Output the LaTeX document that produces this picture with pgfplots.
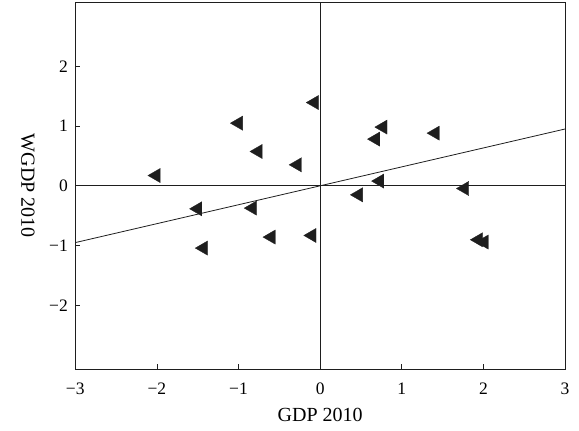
\documentclass[border=0pt]{standalone}
\usepackage{pgfplots}
\pgfplotsset{compat=1.18}
\usepackage{fontspec}
\setmainfont{Liberation Serif}
\definecolor{ink}{HTML}{1E1E1E}
\pgfplotstableread{
x y
-2.01 0.172
-1.00 1.048
-0.76 0.574
-0.28 0.351
-0.07 1.393
0.77 0.982
0.68 0.781
1.41 0.881
0.73 0.079
1.77 -0.045
0.47 -0.151
-1.50 -0.385
-0.83 -0.373
-0.60 -0.858
-0.10 -0.831
-1.43 -1.042
1.94 -0.903
2.01 -0.941
}\pts
\usepackage{pgfplotstable}
\begin{document}
\begin{tikzpicture}
\begin{axis}[
  name=ax,
  scale only axis, width=489.7bp, height=367bp,
  xmin=-3, xmax=3, ymin=-3.07, ymax=3.07,
  axis line style={ink, line width=0.9bp},
  xtick={-3,-2,-1,0,1,2,3},
  xticklabels={−3,−2,−1,0,1,2,3},
  ytick={-2,-1,0,1,2},
  yticklabels={−2,−1,0,1,2},
  xtick pos=lower, ytick pos=left,
  tick align=inside, major tick length=5bp,
  tick style={ink, line width=0.8bp},
  ticklabel style={font=\fontsize{17.5bp}{20bp}\selectfont},
  xticklabel style={yshift=-10bp},
  yticklabel style={xshift=-4bp},
  xlabel={GDP 2010},
  ylabel={WGDP 2010},
  label style={font=\fontsize{20bp}{23bp}\selectfont},
  xlabel style={at={(axis description cs:0.5,-0.1428)}, anchor=base},
  ylabel style={at={(axis description cs:-0.0966,0.5)}, anchor=center, rotate=180},
  clip=true,
]
\addplot[ink, line width=0.8bp, forget plot] coordinates {(0,-3.07) (0,3.07)};
\addplot[ink, line width=0.8bp, forget plot] coordinates {(-3,0) (3,0)};
\addplot[ink, line width=0.8bp] coordinates {(-3,-0.95) (3,0.95)};
\addplot[only marks, mark=triangle*, mark size=8.2bp,
  mark options={rotate=90, fill=ink, draw=ink, line width=0.3bp}] table[x=x,y=y] {\pts};
\end{axis}
\pgfresetboundingbox
\path[use as bounding box] (ax.south west) ++(-75.3bp,-60.7bp) rectangle ([shift={(14bp,2.3bp)}]ax.north east);
\end{tikzpicture}
\end{document}
